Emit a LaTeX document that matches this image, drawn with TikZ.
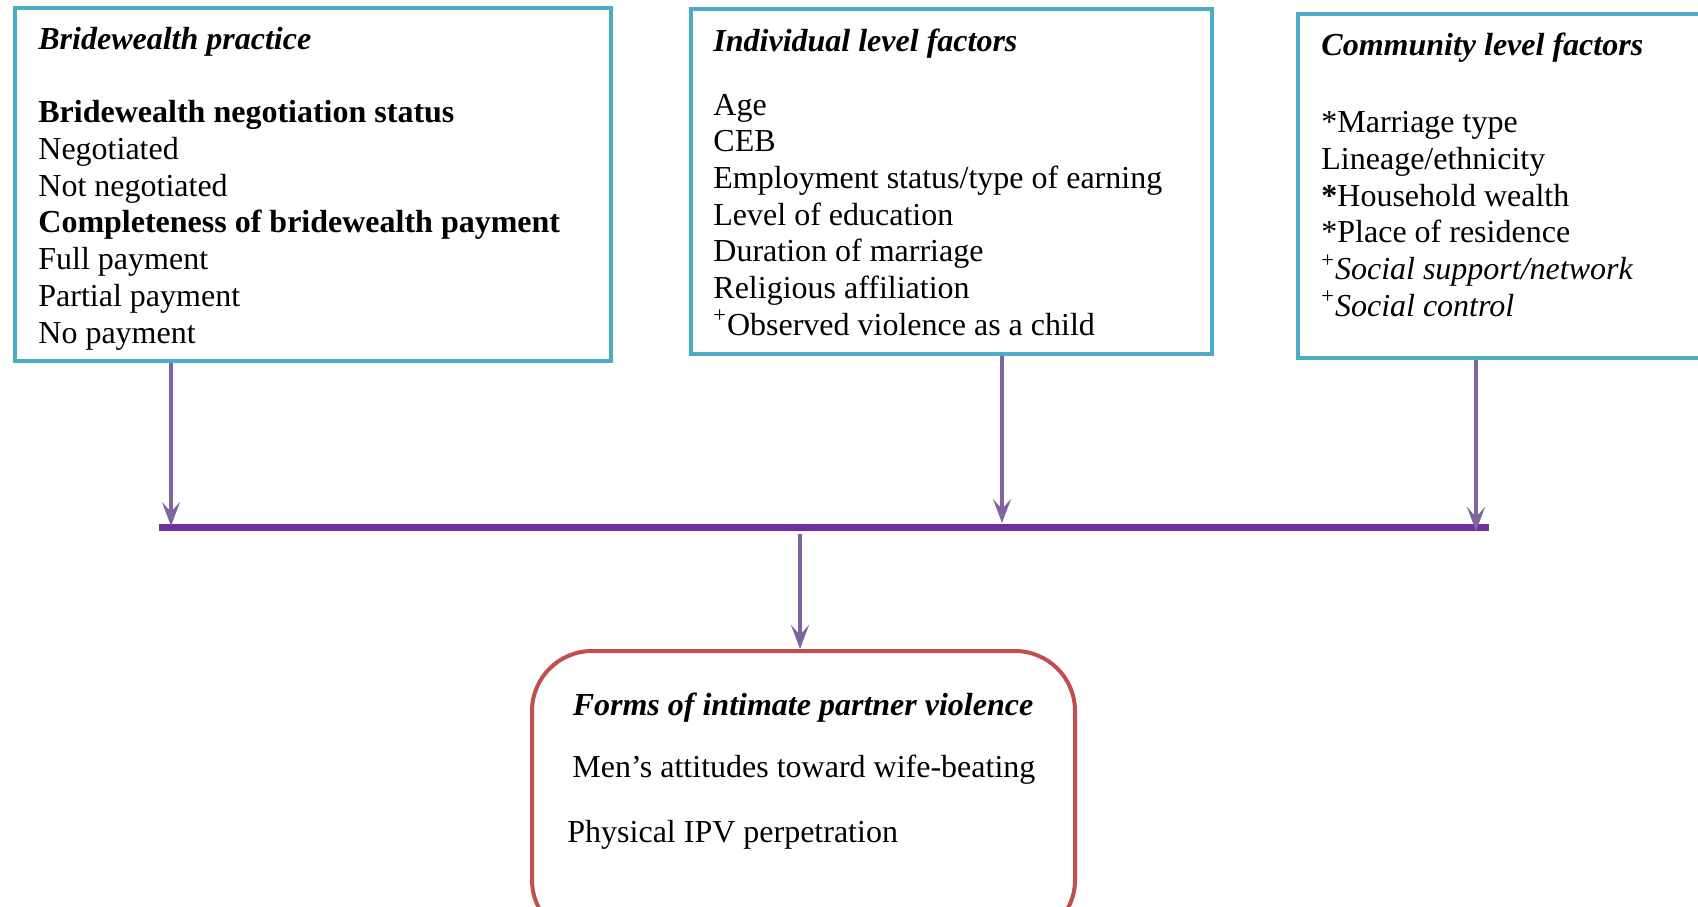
\documentclass[tikz,border=0pt]{standalone}
\usepackage{fontspec}
\setmainfont{Liberation Serif}
\usetikzlibrary{arrows.meta}
\definecolor{boxblue}{HTML}{4BACC6}
\definecolor{boxred}{HTML}{C0504D}
\definecolor{arrowpurple}{HTML}{8064A2}
\definecolor{barpurple}{HTML}{7030A0}
\tikzset{
  bluebox/.style={draw=boxblue, line width=2.2pt, rectangle, inner sep=0pt},
  redbox/.style={draw=boxred, line width=2pt, rectangle, rounded corners=30pt, inner sep=0pt},
  line/.style={anchor=base west, inner sep=0pt, font=\fontsize{16}{18.4}\selectfont},
  cline/.style={anchor=base, inner sep=0pt, font=\fontsize{16}{18.4}\selectfont},
  feed/.style={draw=arrowpurple, line width=1.6pt,
    -{Stealth[length=12pt,width=9pt,inset=5pt]}},
  joinbar/.style={draw=barpurple, line width=3.5pt}
}
\begin{document}
\begin{tikzpicture}[x=0.5pt, y=-0.5pt]
\useasboundingbox (0,0) rectangle (1698,906);
\clip (0,0) rectangle (1698,906);

% frames
\node[bluebox, minimum width=298pt, minimum height=176.5pt] (bw) at (313,184.5) {};
\node[bluebox, minimum width=260.5pt, minimum height=172.5pt] (ind) at (951.5,181.5) {};
\node[bluebox, minimum width=211pt, minimum height=172pt] (com) at (1509,186) {};
\node[redbox, minimum width=271.5pt, minimum height=144.5pt] (ipv) at (803.5,795.5) {};

% bridewealth practice
\node[line] (bwt) at (38,49) {\textbf{\textit{Bridewealth practice}}};
\node[line] (bw1) at (38,122.5) {\textbf{Bridewealth negotiation status}};
\node[line] (bw2) at (38,159.3) {Negotiated};
\node[line] (bw3) at (38,196.1) {Not negotiated};
\node[line] (bw4) at (38,232.9) {\textbf{Completeness of bridewealth payment}};
\node[line] (bw5) at (38,269.7) {Full payment};
\node[line] (bw6) at (38,306.5) {Partial payment};
\node[line] (bw7) at (38,343.3) {No payment};

% individual level factors
\node[line] (indt) at (713,51) {\textbf{\textit{Individual level factors}}};
\node[line] (ind1) at (713,115) {Age};
\node[line] (ind2) at (713,151.5) {CEB};
\node[line] (ind3) at (713,188.3) {Employment status/type of earning};
\node[line] (ind4) at (713,225.1) {Level of education};
\node[line] (ind5) at (713,261.9) {Duration of marriage};
\node[line] (ind6) at (713,298.7) {Religious affiliation};
\node[line] (ind7) at (713,335.5) {\textsuperscript{+}Observed violence as a child};

% community level factors
\node[line] (comt) at (1321,55.5) {\textbf{\textit{Community level factors}}};
\node[line] (com1) at (1321,132.5) {*Marriage type};
\node[line] (com2) at (1321,169.3) {Lineage/ethnicity};
\node[line] (com3) at (1321,206.1) {\textbf{*}Household wealth};
\node[line] (com4) at (1321,242.9) {*Place of residence};
\node[line] (com5) at (1321,279.7) {\textsuperscript{+}\textit{Social support/network}};
\node[line] (com6) at (1321,316.5) {\textsuperscript{+}\textit{Social control}};

% outcome
\node[cline] (ipvt) at (803,715) {\textbf{\textit{Forms of intimate partner violence}}};
\node[line] (ipv1) at (572,777.5) {Men’s attitudes toward wife-beating};
\node[line] (ipv2) at (567,842) {Physical IPV perpetration};

% joining bar and arrows
\coordinate (barL) at (159,527);
\coordinate (barR) at (1489,527);
\coordinate (j1) at (171,526);
\coordinate (j2) at (1002,523);
\coordinate (j3) at (1476,531);
\coordinate (jd) at (800,534);

\draw[joinbar] (barL) -- (barR);
\draw[feed] (bw.south -| j1) -- (j1);
\draw[feed] (ind.south -| j2) -- (j2);
\draw[feed] (com.south -| j3) -- (j3);
\draw[feed] (jd) -- (ipv.north -| jd);
\end{tikzpicture}
\end{document}
